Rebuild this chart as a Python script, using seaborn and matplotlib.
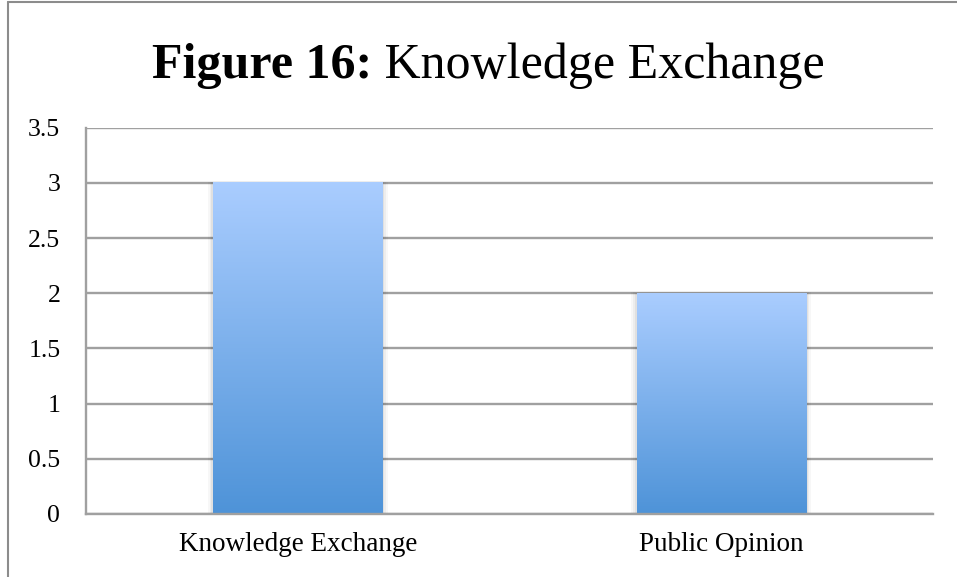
import matplotlib
matplotlib.use("Agg")
import matplotlib.pyplot as plt
import seaborn as sns
import numpy as np
import pandas as pd
from matplotlib.colors import LinearSegmentedColormap

categories = ["Knowledge Exchange", "Public Opinion"]
values = [3, 2]
yticks = [0, 0.5, 1, 1.5, 2, 2.5, 3, 3.5]
ytick_labels = ["0", "0.5", "1", "1.5", "2", "2.5", "3", "3.5"]
title_bold = "Figure 16:"
title_rest = " Knowledge Exchange"

sns.set_theme(style="white")
plt.rcParams['font.family'] = ['Liberation Serif', 'DejaVu Serif']
plt.rcParams['text.color'] = 'black'
plt.rcParams['xtick.color'] = 'black'
plt.rcParams['ytick.color'] = 'black'

df = pd.DataFrame({"cat": categories, "val": values})

fig = plt.figure(figsize=(9.57, 5.77), dpi=100)
ax = fig.add_axes([86/957, 1 - 514/577, (933-86)/957, (514-127.7)/577])

sns.barplot(data=df, x="cat", y="val", ax=ax, width=0.4, color="#7fb0ee", zorder=3)

ax.set_ylim(0, 3.5)
ax.set_xlim(-0.5, 1.5)
ax.set_yticks(yticks)
ax.set_yticklabels(ytick_labels, fontsize=18.5)
ax.tick_params(axis='x', labelsize=19.5, pad=13, length=0, labelcolor='black')
ax.tick_params(axis='y', pad=18.5, length=0, labelcolor='black')
ax.set_xlabel("")
ax.set_ylabel("")
ax.yaxis.grid(True, color="#a0a0a0", linewidth=1.7, zorder=0)
ax.set_axisbelow(True)
for s in ["top", "right"]:
    ax.spines[s].set_visible(False)
for s in ["left", "bottom"]:
    ax.spines[s].set_color("#a0a0a0")
    ax.spines[s].set_linewidth(1.7)
    ax.spines[s].set_zorder(5)

cmap = LinearSegmentedColormap.from_list("g", ["#4e93d8", "#aacdff"])
grad = np.linspace(0, 1, 256).reshape(-1, 1)
for p in ax.patches:
    x0, y0 = p.get_x(), p.get_y()
    w, h = p.get_width(), p.get_height()
    p.set_facecolor("none")
    p.set_edgecolor("none")
    for k, a in enumerate([0.05, 0.04, 0.03]):
        ax.add_patch(plt.Rectangle((x0 - 0.004*(k+1), y0), w + 0.008*(k+1), h + 0.004*(k+1),
                                   facecolor="black", alpha=a, edgecolor="none", zorder=2))
    ax.imshow(grad, extent=(x0, x0 + w, y0, y0 + h), origin="lower", cmap=cmap,
              aspect="auto", zorder=3, interpolation="bilinear")

ax.set_xlim(-0.5, 1.5)
ax.set_ylim(0, 3.5)

# title
fig.canvas.draw()
r = fig.canvas.get_renderer()
tb = fig.text(0, 0, title_bold, fontsize=36, fontweight="bold", va="baseline", ha="left", color="black")
tr = fig.text(0, 0, title_rest, fontsize=36, va="baseline", ha="left", color="black")
wb = tb.get_window_extent(r).width
wr = tr.get_window_extent(r).width
total = wb + wr
start = 488.5 - total / 2
yb = 1 - 78/577
tb.set_position((start/957, yb))
tr.set_position(((start + wb)/957, yb))

# outer border (top and left)
fig.add_artist(plt.Line2D([8/957, 1], [1 - 2/577, 1 - 2/577], color="#8c8c8c", linewidth=1.5))
fig.add_artist(plt.Line2D([8/957, 8/957], [0, 1 - 2/577], color="#8c8c8c", linewidth=1.5))

fig.savefig("out.png", dpi=100)
